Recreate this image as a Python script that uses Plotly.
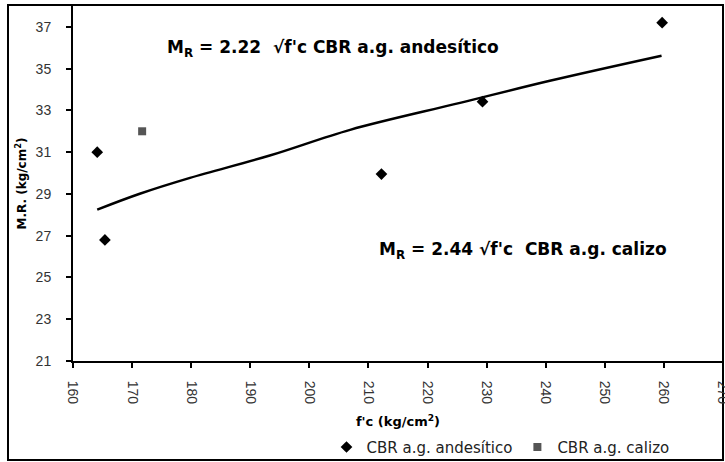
import plotly.graph_objects as go

# Data
andes_fc = [164.1, 165.4, 212.2, 229.3, 259.7]
andes_mr = [31.0, 26.8, 29.95, 33.42, 37.2]

caliz_fc = [171.7]
caliz_mr = [32.0]

# trend curve (M_R = 2.22 sqrt(f'c))
trend_fc = [164.1, 171.3, 179.8, 193.3, 206.9, 225.5, 240.7, 259.6]
trend_mr = [28.25, 29.01, 29.77, 30.84, 32.07, 33.36, 34.42, 35.62]

x_ticks = list(range(160, 280, 10))
y_ticks = list(range(21, 39, 2))

fig = go.Figure()
fig.add_trace(go.Scatter(x=trend_fc, y=trend_mr, mode="lines", line_shape="spline",
                         line=dict(color="black", width=2.5), showlegend=False,
                         hoverinfo="skip"))
fig.add_trace(go.Scatter(x=andes_fc, y=andes_mr, mode="markers", name="CBR a.g. andesítico",
                         marker=dict(symbol="diamond", size=9, color="black")))
fig.add_trace(go.Scatter(x=caliz_fc, y=caliz_mr, mode="markers", name="CBR a.g. calizo",
                         marker=dict(symbol="square", size=8, color="#555555")))

tickfont = dict(family="Liberation Sans", size=14, color="#333333")
boldfont = dict(family="DejaVu Sans", size=17, color="black")

fig.update_layout(
    width=725, height=462,
    margin=dict(l=73, r=2, t=6, b=101, autoexpand=False),
    paper_bgcolor="white", plot_bgcolor="white",
    showlegend=True,
    legend=dict(orientation="h", x=0.39, y=-0.243, xanchor="left", yanchor="middle",
                font=dict(family="DejaVu Sans", size=15, color="#222222"),
                itemwidth=30, bgcolor="rgba(0,0,0,0)", tracegroupgap=0),
    xaxis=dict(range=[160, 270], tickvals=x_ticks, ticktext=[str(v) for v in x_ticks],
               tickangle=90, ticks="outside", ticklen=5, tickwidth=1.5, tickcolor="black",
               showline=True, linecolor="black", linewidth=2, showgrid=False, zeroline=False,
               tickfont=tickfont, ticklabelstandoff=10, automargin=False,
               ticklabeloverflow="allow",
               title=dict(text="<b>f'c (kg/cm<sup>2</sup>)</b>",
                          font=dict(family="DejaVu Sans", size=13, color="black"), standoff=14)),
    yaxis=dict(range=[21, 38], tickvals=y_ticks, ticktext=[str(v) for v in y_ticks],
               ticks="outside", ticklen=5, tickwidth=1.5, tickcolor="black",
               showline=True, linecolor="black", linewidth=2, showgrid=False, zeroline=False,
               tickfont=tickfont, ticklabelstandoff=12, automargin=False,
               title=dict(text="<b>M.R. (kg/cm<sup>2</sup>)</b>",
                          font=dict(family="DejaVu Sans", size=12, color="black"), standoff=6)),
    annotations=[
        dict(x=175.6, y=35.95, xref="x", yref="y", xanchor="left", yanchor="middle", showarrow=False,
             text="<b>M<sub>R</sub> = 2.22  √f'c CBR a.g. andesítico</b>", font=boldfont),
        dict(x=211.4, y=26.3, xref="x", yref="y", xanchor="left", yanchor="middle", showarrow=False,
             text="<b>M<sub>R</sub> = 2.44 √f'c  CBR a.g. calizo</b>", font=boldfont),
    ],
    shapes=[dict(type="rect", xref="paper", yref="paper",
                 x0=(8 - 73) / 650, x1=(723 - 73) / 650,
                 y0=(361 - 460) / 355, y1=(361 - 5) / 355,
                 line=dict(color="black", width=2), fillcolor="rgba(0,0,0,0)", layer="below")],
)

fig.write_html("out.html", config={"displayModeBar": False},
               post_script="document.body.style.margin='0';")
